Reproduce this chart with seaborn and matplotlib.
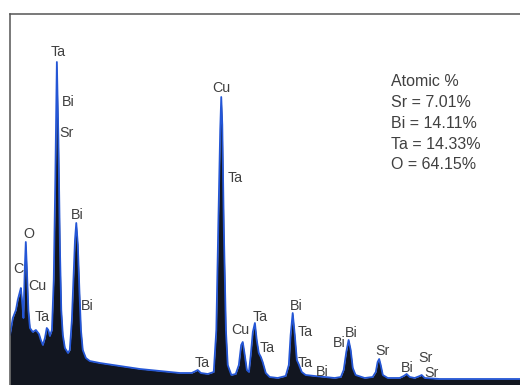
import matplotlib
matplotlib.use("Agg")
from matplotlib import pyplot as plt
import pandas as pd
import seaborn as sns

# spectrum (energy in keV, counts in arbitrary units)
energy = [-0.10, 0.01, 0.13, 0.20, 0.28, 0.32, 0.38, 0.42, 0.47, 0.51,
          0.55, 0.61, 0.67, 0.78, 0.90, 1.02, 1.09, 1.17, 1.25, 1.32,
          1.38, 1.44, 1.52, 1.59, 1.65, 1.71, 1.77, 1.83, 1.88, 1.94,
          2.02, 2.14, 2.21, 2.29, 2.35, 2.41, 2.46, 2.52, 2.58, 2.64,
          2.71, 2.83, 2.98, 3.37, 4.14, 4.92, 5.69, 6.46, 6.92, 7.08,
          7.15, 7.27, 7.54, 7.77, 7.87, 7.95, 8.02, 8.06, 8.10, 8.16,
          8.24, 8.31, 8.45, 8.62, 8.74, 8.83, 8.89, 8.95, 9.05, 9.13,
          9.20, 9.28, 9.36, 9.43, 9.51, 9.59, 9.66, 9.78, 9.93, 10.24,
          10.55, 10.67, 10.74, 10.82, 10.90, 10.98, 11.05, 11.17, 11.32, 11.67,
          12.06, 12.44, 12.68, 12.79, 12.89, 12.98, 13.06, 13.14, 13.25, 13.60,
          13.91, 14.03, 14.10, 14.16, 14.22, 14.30, 14.49, 14.95, 15.11, 15.22,
          15.34, 15.53, 15.73, 15.80, 15.92, 16.50, 17.66, 18.81, 19.60]
counts = [50, 67, 75, 85, 93, 97, 80, 67, 115, 143,
          117, 75, 57, 53, 55, 51, 45, 40, 47, 57,
          55, 49, 55, 105, 205, 323, 245, 135, 75, 50,
          37, 32, 35, 65, 105, 145, 162, 140, 95, 55,
          35, 27, 24, 22, 19, 16, 14, 12, 12, 14,
          15, 12, 11, 13, 55, 165, 255, 288, 260, 155,
          55, 20, 10, 11, 20, 40, 43, 33, 15, 13,
          30, 53, 62, 45, 32, 28, 23, 12, 8, 7,
          9, 20, 50, 72, 50, 25, 21, 13, 10, 9,
          8, 7, 8, 15, 33, 45, 35, 17, 10, 7,
          8, 13, 23, 26, 20, 10, 7, 7, 9, 11,
          8, 7, 9, 10, 7, 6, 6, 6, 6]

# peak labels
label_text = ["Ta", "Bi", "Sr", "Cu", "Ta", "Bi", "O", "C", "Cu", "Bi",
              "Ta", "Ta", "Cu", "Ta", "Ta", "Bi", "Ta", "Ta", "Bi", "Bi",
              "Bi", "Sr", "Bi", "Sr", "Sr"]
label_x = [1.75, 2.14, 2.10, 8.08, 8.58, 2.48, 0.63, 0.24, 0.94, 2.87,
           1.13, 7.31, 8.81, 9.57, 9.85, 10.94, 11.31, 11.31, 11.97, 12.60,
           13.10, 14.29, 15.26, 15.95, 16.18]
label_y = [333, 283, 252, 297, 207, 170, 151, 116, 99, 79,
           68, 22, 55, 68, 37, 79, 53, 22, 13, 42,
           52, 34, 17, 27, 12]

elements = ["Sr", "Bi", "Ta", "O"]
atomic_pct = [7.01, 14.11, 14.33, 64.15]

df = pd.DataFrame({"energy": energy, "counts": counts})

sns.set_style("white")
plt.rcParams["font.family"] = ["Liberation Sans", "DejaVu Sans"]

fig = plt.figure(figsize=(5.2, 3.85), dpi=100)
ax = fig.add_axes([10 / 520, 0, 510 / 520, 371 / 385])

ax.fill_between(df["energy"], 0, df["counts"], color="#121620", lw=0)
sns.lineplot(data=df, x="energy", y="counts", ax=ax, color="#2456d6",
             lw=1.3, estimator=None)

for t, x, y in zip(label_text, label_x, label_y):
    ax.text(x, y, t, ha="center", va="center", fontsize=10.3, color="#404040")

lines = ["Atomic %"] + [f"{e} = {p:.2f}%" for e, p in zip(elements, atomic_pct)]
for i, s in enumerate(lines):
    ax.text(0.748, 0.8175 - i * 0.056, s, transform=ax.transAxes,
            ha="left", va="center", fontsize=11.5, color="#404040")

ax.set_xlim(-0.1, 19.6)
ax.set_ylim(0, 371)
ax.set_xticks([])
ax.set_yticks([])
ax.set_xlabel("")
ax.set_ylabel("")
for side in ["right", "bottom"]:
    ax.spines[side].set_visible(False)
for side in ["left", "top"]:
    ax.spines[side].set_color("#555555")
    ax.spines[side].set_linewidth(1.1)

fig.savefig("out.png", dpi=100)
